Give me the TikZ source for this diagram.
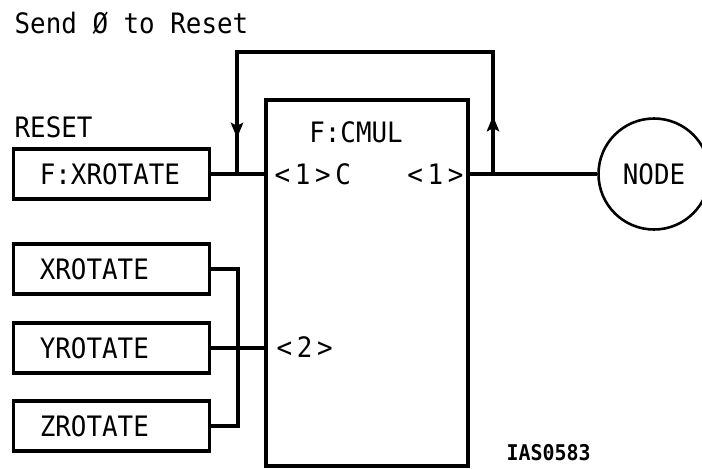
\documentclass[tikz,border=0pt]{standalone}
\usepackage{fontspec}
\setmonofont[FakeStretch=0.92]{DejaVu Sans Mono}
\usetikzlibrary{calc,arrows.meta}

\begin{document}
\begin{tikzpicture}[x=0.03cm,y=-0.03cm,line width=2.8pt,
lbl/.style={font=\fontsize{24}{28}\selectfont\ttfamily,inner sep=0pt},
rbox/.style={draw,lbl,minimum width=5.85cm,minimum height=1.5cm,text width=4.3cm,inner xsep=0.78cm,align=left},
flow/.style={-{Stealth[length=13pt,width=10.5pt,inset=2.5pt]}}]
\useasboundingbox (0,0) rectangle (702,468);
\node[lbl,anchor=base west] (title) at (13,33) {Send Ø to Reset};
\node[lbl,anchor=base west] (resetlbl) at (13,137) {RESET};
\node[rbox] (fxrot) at (111.5,174) {F:XROTATE};
\node[rbox] (xrot) at (111.5,269) {XROTATE};
\node[rbox] (yrot) at (111.5,348) {YROTATE};
\node[rbox] (zrot) at (111.5,426) {ZROTATE};
\node[draw,minimum width=6.06cm,minimum height=10.98cm] (cmul) at (367,283) {};
\node[lbl,anchor=base] (cmulname) at (356,142) {F:CMUL};
\node[lbl,anchor=base west] (in1) at (273,184) {<\,1\,>\,C};
\node[lbl,anchor=base east] (out1) at (465,184) {<\,1\,>};
\node[lbl,anchor=base west] (in2) at (275,357) {<\,2\,>};
\node[draw,circle,lbl,line width=2.2pt,minimum size=3.33cm] (nd) at (654,174) {NODE};
\node[lbl,font=\fontsize{18.5}{22}\selectfont\ttfamily\bfseries,anchor=base west] (tag) at (505,460) {IAS0583};
\coordinate (jin) at (237,174);
\coordinate (jout) at (493,174);
\coordinate (bus) at (238,0);
\coordinate (loop) at (0,52);
\draw (fxrot.east) -- (fxrot.east -| cmul.west);
\draw (cmul.east |- nd.west) -- (nd.west);
\draw (jout) |- (jin |- loop) -- (jin);
\draw[flow] (jout) -- ($(jout)+(0,-58)$);
\draw[flow] (jin |- loop) -- ($(jin)+(0,-36)$);
\draw (xrot.east) -| (bus |- zrot.east) -- (zrot.east);
\draw (yrot.east) -- (yrot.east -| cmul.west);
\end{tikzpicture}
\end{document}
